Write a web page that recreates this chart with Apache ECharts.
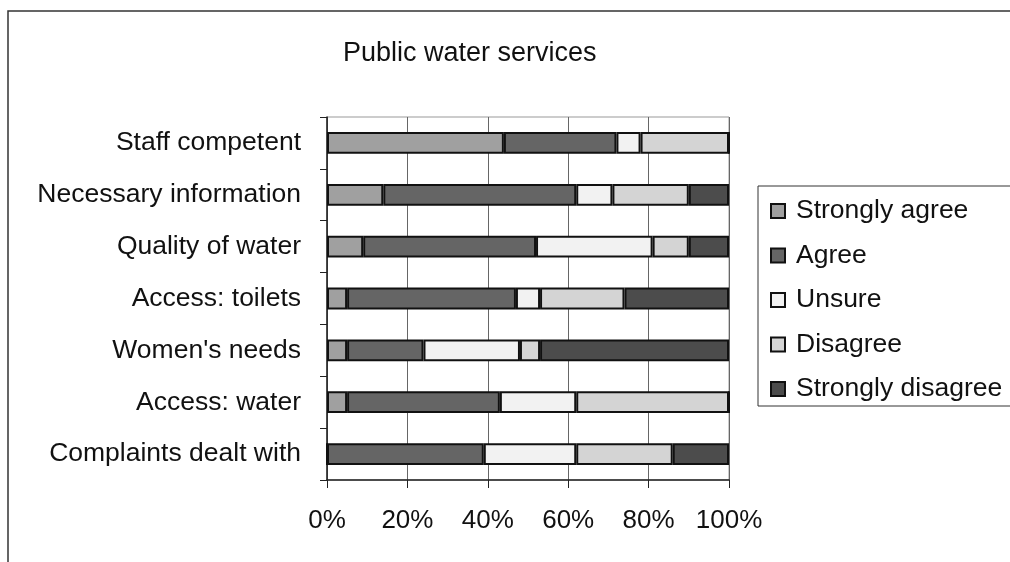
<!DOCTYPE html>
<html>
<head>
<meta charset="utf-8">
<script src="https://cdn.jsdelivr.net/npm/echarts@6/dist/echarts.min.js"></script>
<style>html,body{margin:0;padding:0;background:#fff;}#c{width:1010px;height:562px;}</style>
</head>
<body>
<div id="c"></div>
<script>
const categories = ["Staff competent", "Necessary information", "Quality of water", "Access: toilets", "Women's needs", "Access: water", "Complaints dealt with"];
const seriesNames = ["Strongly agree", "Agree", "Unsure", "Disagree", "Strongly disagree"];
const stronglyAgree    = [44, 14,  9,  5,  5,  5,  0];
const agree            = [28, 48, 43, 42, 19, 38, 39];
const unsure           = [ 6,  9, 29,  6, 24, 19, 23];
const disagree         = [22, 19,  9, 21,  5, 38, 24];
const stronglyDisagree = [ 0, 10, 10, 26, 47,  0, 14];
const xTicks = [0, 20, 40, 60, 80, 100];
const colors = ['#a0a0a0', '#656565', '#f2f2f2', '#d4d4d4', '#4c4c4c'];

const values = [stronglyAgree, agree, unsure, disagree, stronglyDisagree];
const font = '"Liberation Sans", Arial, sans-serif';

const chart = echarts.init(document.getElementById('c'));
chart.setOption({
  animation: false,
  backgroundColor: '#fff',
  graphic: [{
    type: 'rect', shape: {x: 8, y: 11, width: 1030, height: 600},
    style: {fill: 'none', stroke: '#333', lineWidth: 1.5}, silent: true, z: -10
  }],
  title: {
    text: 'Public water services', left: 338, top: 35,
    textStyle: {fontFamily: font, fontSize: 27, fontWeight: 'normal', color: '#111'}
  },
  legend: {
    orient: 'vertical', left: 758, top: 186,
    data: seriesNames,
    icon: 'rect', itemWidth: 14, itemHeight: 14, itemGap: 14.5,
    padding: [10, 14, 2, 12],
    borderColor: '#333', borderWidth: 1,
    textStyle: {fontFamily: font, fontSize: 26.5, color: '#111', lineHeight: 30, padding: [0, 0, 0, 6]}
  },
  grid: {
    left: 327, right: 281, top: 117, bottom: 82, containLabel: false,
    show: true, borderColor: '#999', borderWidth: 1
  },
  xAxis: {
    type: 'value', min: xTicks[0], max: xTicks[xTicks.length - 1], interval: 20,
    axisLine: {show: true, lineStyle: {color: '#222', width: 1.5}},
    axisTick: {show: true, length: 8, lineStyle: {color: '#222'}},
    splitLine: {show: true, lineStyle: {color: '#666', width: 1}},
    axisLabel: {formatter: '{value}%', fontFamily: font, fontSize: 26, color: '#111', margin: 28}
  },
  yAxis: {
    type: 'category', data: categories, inverse: true,
    axisLine: {show: true, lineStyle: {color: '#222', width: 1.5}},
    axisTick: {show: true, length: 7, lineStyle: {color: '#222'}},
    axisLabel: {fontFamily: font, fontSize: 26.5, color: '#111', margin: 26}
  },
  series: seriesNames.map((name, i) => ({
    name: name, type: 'bar', stack: 'total',
    data: values[i],
    barCategoryGap: '58%',
    itemStyle: {color: colors[i], borderColor: '#111', borderWidth: 2}
  }))
});
</script>
</body>
</html>
